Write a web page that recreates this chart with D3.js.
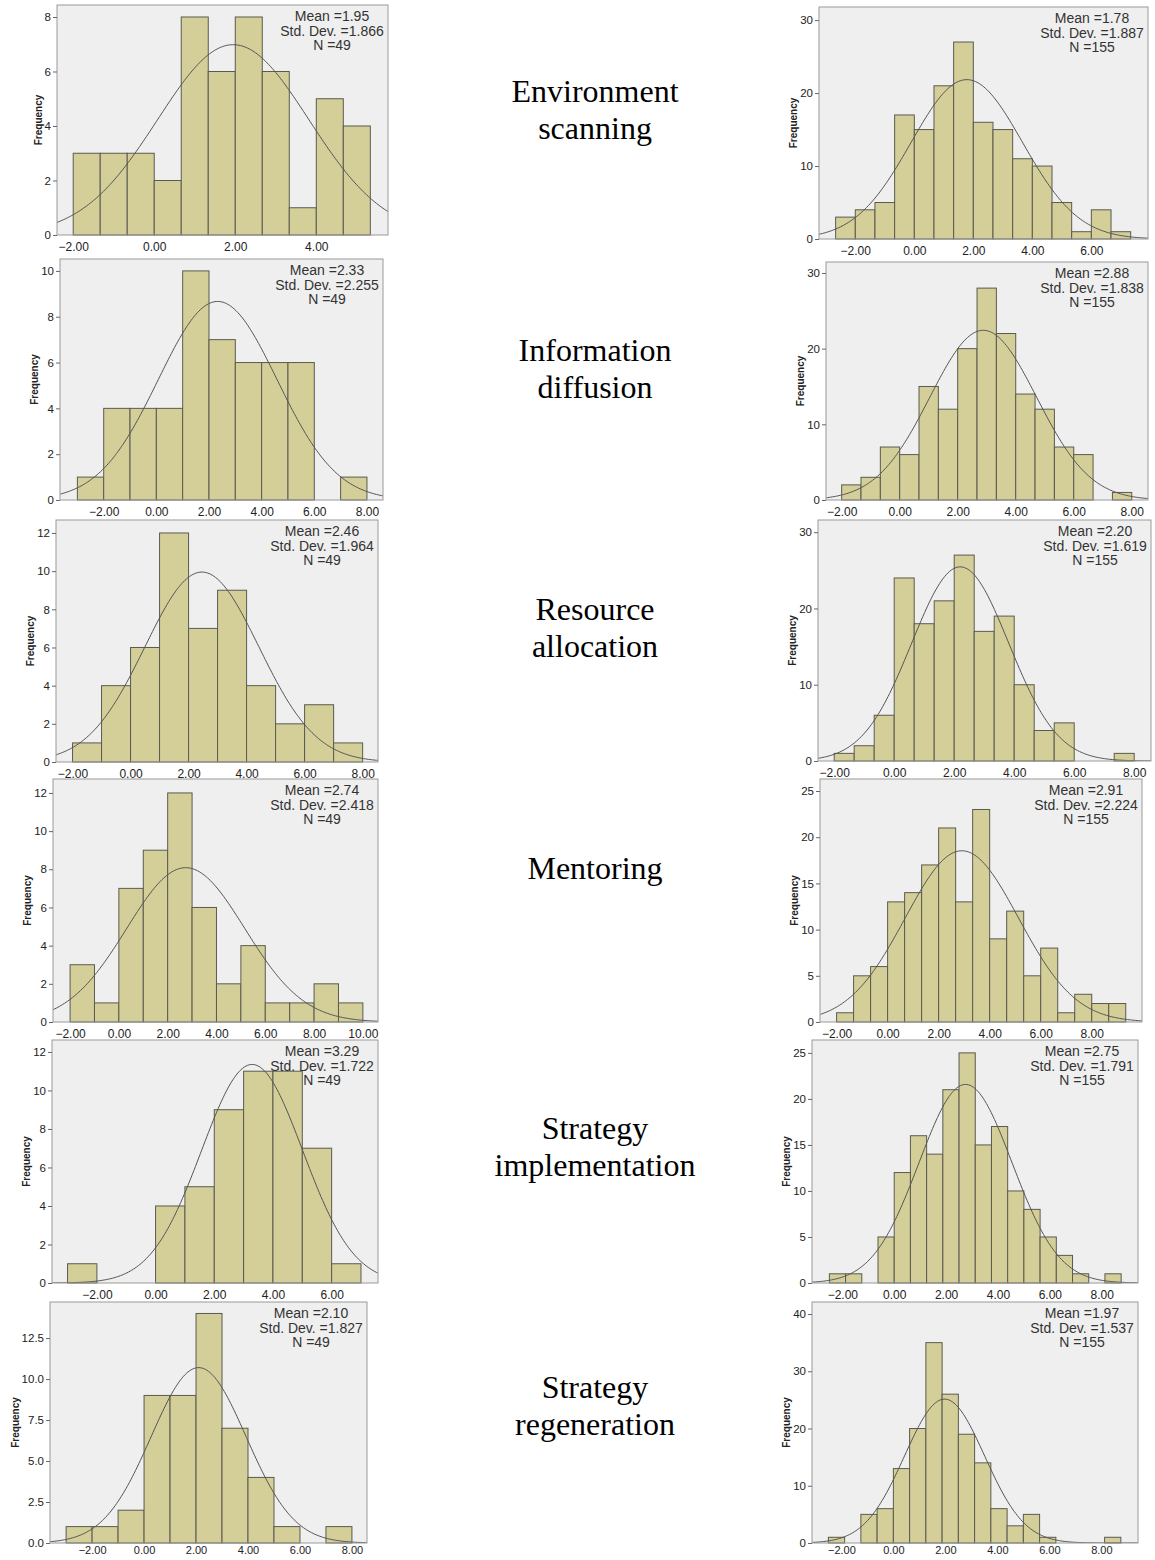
<!DOCTYPE html>
<html>
<head>
<meta charset="utf-8">
<script src="https://d3js.org/d3.v7.min.js"></script>
<style>
  body { margin: 0; background: #fff; }
  .tick text { font-family: Arial, "Liberation Sans", sans-serif; fill: #222; }
</style>
</head>
<body>
<script>
// row labels (middle column)
const rowLabels = [["Environment", "scanning"], ["Information", "diffusion"], ["Resource", "allocation"],
                   ["Mentoring"], ["Strategy", "implementation"], ["Strategy", "regeneration"]];

// left column, N = 49
const nLeft = 49;
const meansLeft = [1.95, 2.33, 2.46, 2.74, 3.29, 2.10];
const sdsLeft = [1.866, 2.255, 1.964, 2.418, 1.722, 1.827];
const binStartLeft = [-2, -3, -2, -2, -3, -3];
const binWidthLeft = [2/3, 1, 1, 1, 1, 1];
const countsLeft = [
  [3, 3, 3, 2, 8, 6, 8, 6, 1, 5, 4],
  [1, 4, 4, 4, 10, 7, 6, 6, 6, 0, 1],
  [1, 4, 6, 12, 7, 9, 4, 2, 3, 1],
  [3, 1, 7, 9, 12, 6, 2, 4, 1, 1, 2, 1],
  [1, 0, 0, 4, 5, 9, 11, 11, 7, 1],
  [1, 1, 2, 9, 9, 14, 7, 4, 1, 0, 1]
];
const xDomainLeft = [[-2.40, 5.77], [-3.66, 8.61], [-2.57, 8.53], [-2.70, 10.62], [-3.53, 7.58], [-3.62, 8.58]];
const yTopLeft = [8.44, 10.52, 12.68, 12.73, 12.62, 14.7];
const yStepLeft = [2, 2, 2, 2, 2, 2.5];
const xTickMaxLeft = [4, 8, 8, 10, 6, 8];

// right column, N = 155
const nRight = 155;
const meansRight = [1.78, 2.88, 2.20, 2.91, 2.75, 1.97];
const sdsRight = [1.887, 1.838, 1.619, 2.224, 1.791, 1.537];
const binStartRight = [-8/3, -2, -2, -2, -2.5, -2.5];
const binWidthRight = [2/3, 2/3, 2/3, 2/3, 0.625, 0.625];
const countsRight = [
  [3, 4, 5, 17, 15, 21, 27, 16, 15, 11, 10, 5, 1, 4, 1],
  [2, 3, 7, 6, 15, 12, 20, 28, 22, 14, 12, 7, 6, 0, 1],
  [1, 2, 6, 24, 18, 21, 27, 17, 19, 10, 4, 5, 0, 0, 1],
  [1, 5, 6, 13, 14, 17, 21, 13, 23, 9, 12, 5, 8, 1, 3, 2, 2],
  [1, 1, 0, 5, 12, 16, 14, 21, 25, 15, 17, 10, 8, 5, 3, 1, 0, 1],
  [1, 0, 5, 6, 13, 20, 35, 26, 19, 14, 6, 3, 5, 1, 0, 0, 0, 1]
];
const xDomainRight = [[-3.23, 7.92], [-2.54, 8.56], [-2.54, 8.56], [-2.65, 9.97], [-3.17, 9.40], [-3.13, 9.41]];
const yTopRight = [31.8, 31.45, 31.6, 26.3, 26.4, 42.1];
const yStepRight = [10, 10, 10, 5, 5, 10];
const xTickMaxRight = [6, 8, 8, 8, 8, 8];

// frame boxes [left, top, right, bottom] of every plot area
const boxLeft = [[57, 5, 388, 235], [60, 259, 383, 500], [56, 520, 378, 762],
                 [53, 779, 378, 1022], [52, 1040, 378, 1283], [50, 1302, 367, 1543]];
const boxRight = [[819, 7, 1148, 239], [826, 262, 1148, 500], [818, 520, 1151, 761],
                  [820, 779, 1142, 1022], [812, 1040, 1138, 1283], [812, 1302, 1138, 1543]];
const labelCenterY = [120, 379, 638, 879, 1157, 1416];

const W = 1155, H = 1560;
const svg = d3.select("body").append("svg")
    .attr("width", W)
    .attr("height", H)
    .style("display", "block");

let clipId = 0;

function drawPanel(box, n, mean, sd, binStart, binWidth, counts, xDomain, yTop, yStep, xTickMax, lastRow) {
    const [x0, y0, x1, y1] = box;
    const g = svg.append("g").attr("transform", "translate(" + x0 + "," + y0 + ")");
    const w = x1 - x0, h = y1 - y0;

    const x = d3.scaleLinear().domain(xDomain).range([0, w]);
    const y = d3.scaleLinear().domain([0, yTop]).range([h, 0]);

    g.append("rect")
        .attr("width", w).attr("height", h)
        .attr("fill", "#efefef");

    const id = "clip" + (clipId++);
    g.append("clipPath").attr("id", id)
        .append("rect").attr("width", w).attr("height", h);

    const bins = counts.map((c, i) => ({ x0: binStart + i * binWidth, x1: binStart + (i + 1) * binWidth, c: c }))
        .filter(d => d.c > 0);

    g.selectAll("rect.bar")
        .data(bins)
        .enter()
        .append("rect")
        .attr("class", "bar")
        .attr("x", d => x(d.x0))
        .attr("y", d => y(d.c))
        .attr("width", d => x(d.x1) - x(d.x0))
        .attr("height", d => h - y(d.c))
        .attr("fill", "#d4cf98")
        .attr("stroke", "#5a5a50")
        .attr("stroke-width", 1);

    // fitted normal curve
    const scale = n * binWidth / (sd * Math.sqrt(2 * Math.PI));
    const pts = d3.range(0, 201).map(i => xDomain[0] + (xDomain[1] - xDomain[0]) * i / 200);
    const line = d3.line()
        .x(v => x(v))
        .y(v => y(scale * Math.exp(-0.5 * Math.pow((v - mean) / sd, 2))))
        .curve(d3.curveBasis);
    g.append("path")
        .datum(pts)
        .attr("clip-path", "url(#" + id + ")")
        .attr("d", line)
        .attr("fill", "none")
        .attr("stroke", "#555")
        .attr("stroke-width", 1);

    g.append("rect")
        .attr("width", w).attr("height", h)
        .attr("fill", "none")
        .attr("stroke", "#9a9a9a")
        .attr("stroke-width", 1);

    // axes
    const yTicks = d3.range(0, yTop + 1e-9, yStep);
    const yAxis = g.append("g")
        .call(d3.axisLeft(y)
            .tickValues(yTicks)
            .tickSize(4)
            .tickPadding(2)
            .tickFormat(yStep % 1 === 0 ? d3.format("d") : d3.format(".1f")));
    yAxis.select(".domain").remove();
    yAxis.selectAll("line").attr("stroke", "#666");
    yAxis.selectAll("text").style("font-size", "11.5px");

    // the bottom row sits right on the page edge, so its labels are pulled up a bit
    const xTicks = d3.range(-2, xTickMax + 1e-9, 2);
    const xAxis = g.append("g")
        .attr("transform", "translate(0," + h + ")")
        .call(d3.axisBottom(x)
            .tickValues(xTicks)
            .tickSize(0)
            .tickPadding(lastRow ? 3 : 7)
            .tickFormat(d3.format(".2f")));
    xAxis.select(".domain").remove();
    xAxis.selectAll("text").style("font-size", lastRow ? "11px" : "12px");

    // keep the axis title clear of the widest tick label
    const bb = yAxis.node().getBBox();
    g.append("text")
        .attr("transform", "translate(" + (bb.x - 3) + "," + (h / 2) + ") rotate(-90)")
        .attr("text-anchor", "middle")
        .attr("style", "font-family: Arial, 'Liberation Sans', sans-serif; font-size: 10px; font-weight: bold;")
        .attr("fill", "#222")
        .text("Frequency");

    // summary statistics
    const stats = ["Mean =" + mean.toFixed(2), "Std. Dev. =" + sd.toFixed(3), "N =" + n];
    g.selectAll("text.stat")
        .data(stats)
        .enter()
        .append("text")
        .attr("class", "stat")
        .attr("x", w - 56)
        .attr("y", (d, i) => 16 + i * 14.5)
        .attr("text-anchor", "middle")
        .attr("style", "font-family: Arial, 'Liberation Sans', sans-serif; font-size: 14px;")
        .attr("fill", "#333")
        .text(d => d);
}

for (let r = 0; r < 6; r++) {
    const lastRow = r === 5;
    drawPanel(boxLeft[r], nLeft, meansLeft[r], sdsLeft[r], binStartLeft[r], binWidthLeft[r],
        countsLeft[r], xDomainLeft[r], yTopLeft[r], yStepLeft[r], xTickMaxLeft[r], lastRow);
    drawPanel(boxRight[r], nRight, meansRight[r], sdsRight[r], binStartRight[r], binWidthRight[r],
        countsRight[r], xDomainRight[r], yTopRight[r], yStepRight[r], xTickMaxRight[r], lastRow);

    const lines = rowLabels[r];
    const t = svg.append("text")
        .attr("text-anchor", "middle")
        .attr("style", "font-family: 'Liberation Serif', 'Times New Roman', serif; font-size: 32px;")
        .attr("fill", "#000");
    lines.forEach((s, i) => {
        t.append("tspan")
            .attr("x", 595)
            .attr("y", labelCenterY[r] - (lines.length - 1) * 18.5 + i * 37)
            .text(s);
    });
}
</script>
</body>
</html>
